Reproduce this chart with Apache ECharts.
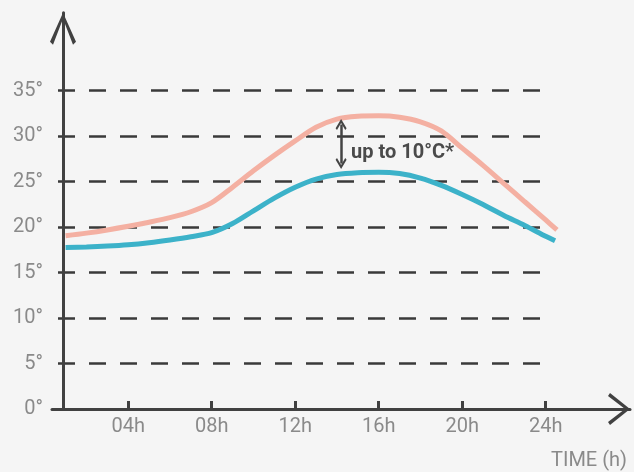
<!DOCTYPE html>
<html>
<head>
<meta charset="utf-8">
<script src="https://cdn.jsdelivr.net/npm/echarts@6/dist/echarts.min.js"></script>
<style>
html,body{margin:0;padding:0;background:#f5f5f5;}
#chart{width:634px;height:472px;}
</style>
</head>
<body>
<div id="chart"></div>
<script>
// ---- data ----
var pinkHours = [1, 2, 3, 4, 5, 6, 7, 8, 9, 10, 11, 12, 13, 14, 15, 16, 17, 18, 19, 20, 21, 22, 23, 24, 24.54];
var pinkTemps = [19.05, 19.35, 19.7, 20.1, 20.55, 21.05, 21.7, 22.7, 24.4, 26.2, 27.9, 29.5, 31.0, 31.9, 32.2, 32.25, 32.1, 31.6, 30.6, 28.7, 26.8, 24.8, 22.8, 20.8, 19.7];
var blueHours = [1, 2, 3, 4, 5, 6, 7, 8, 9, 10, 11, 12, 13, 14, 15, 16, 17, 18, 19, 20, 21, 22, 23, 24, 24.45];
var blueTemps = [17.76, 17.82, 17.92, 18.07, 18.3, 18.6, 18.95, 19.4, 20.4, 21.8, 23.2, 24.4, 25.3, 25.8, 26.0, 26.05, 25.9, 25.4, 24.6, 23.6, 22.5, 21.3, 20.2, 19.0, 18.5];
var hourTicks = [4, 8, 12, 16, 20, 24];
var tempTicks = [0, 5, 10, 15, 20, 25, 30, 35];
var gapHour = 14.2;
var gapRange = [27.0, 31.3];
var gapLabelTemp = 28.2;
var gapLabelText = 'up to 10°C*';
var xName = 'TIME (h)';

function zip(a, b) { return a.map(function (v, i) { return [v, b[i]]; }); }

var axisColor = '#414141';
var labelColor = '#8a8a8a';
var chevY = 'path://M13,0 L26,29 L23,32 L13,6 L3,32 L0,29 Z';
var chevX = 'path://M16,0 L32,20 L29,22 L16,5 L3,22 L0,20 Z';
var chevSmall = 'path://M6,0 L12,8 L10.5,9.5 L6,3.5 L1.5,9.5 L0,8 Z';

var chart = echarts.init(document.getElementById('chart'), null, {renderer: 'canvas'});
chart.setOption({
  backgroundColor: '#f5f5f5',
  animation: false,
  title: {
    text: xName, right: 7, top: 451, padding: 0,
    textStyle: {fontFamily: 'Roboto', fontSize: 20, fontWeight: 'normal', color: labelColor, lineHeight: 20}
  },
  grid: [
    {left: 52, right: 4, top: 12.7, bottom: 63},
    {left: 58, right: 82, top: 90.5, bottom: 63}
  ],
  xAxis: [
    {
      type: 'value', gridIndex: 0, min: 0.35, max: 28.04,
      axisLine: {show: true, symbol: ['none', chevX], symbolSize: [32, 22], symbolOffset: [0, -11],
        lineStyle: {color: axisColor, width: 3}},
      axisTick: {show: true, inside: true, length: 8, customValues: hourTicks, lineStyle: {color: axisColor, width: 3}},
      axisLabel: {show: true, customValues: hourTicks, margin: 8, fontFamily: 'Roboto', fontSize: 20, color: labelColor,
        formatter: function (v) { return (v < 10 ? '0' : '') + v + 'h'; }},
      splitLine: {show: false}
    },
    {
      type: 'value', gridIndex: 1, min: 0, max: 1, show: false
    }
  ],
  yAxis: [
    {
      type: 'value', gridIndex: 0, min: 0, max: 43.6, offset: -11,
      axisLine: {show: true, symbol: ['none', chevY], symbolSize: [26, 32], symbolOffset: [0, -16],
        lineStyle: {color: axisColor, width: 3}},
      axisTick: {show: false},
      axisLabel: {show: true, customValues: tempTicks, margin: 20, fontFamily: 'Roboto', fontSize: 20, color: labelColor,
        formatter: function (v) { return v + '°'; }},
      splitLine: {show: false}
    },
    {
      type: 'value', gridIndex: 1, min: 0, max: 35, interval: 5,
      axisLine: {show: false}, axisTick: {show: false}, axisLabel: {show: false},
      splitLine: {show: true, showMinLine: false,
        lineStyle: {color: '#3a3a3a', width: 2.5, type: [17, 14]}}
    }
  ],
  series: [
    {
      type: 'line', xAxisIndex: 0, yAxisIndex: 0, data: zip(pinkHours, pinkTemps),
      smooth: 0.3, showSymbol: false, silent: true, z: 3,
      lineStyle: {color: '#f4b0a2', width: 5}
    },
    {
      type: 'line', xAxisIndex: 0, yAxisIndex: 0, data: zip(blueHours, blueTemps),
      smooth: 0.3, showSymbol: false, silent: true, z: 4,
      lineStyle: {color: '#3cb2c9', width: 5},
      markLine: {
        silent: true, symbol: [chevSmall, chevSmall], symbolSize: 11,
        lineStyle: {color: '#444', width: 2.5, type: 'solid'},
        label: {show: false},
        data: [[{coord: [gapHour, gapRange[0]]}, {coord: [gapHour, gapRange[1]]}]]
      },
      markPoint: {
        silent: true, symbol: 'circle', symbolSize: 0,
        label: {show: true, position: 'right', distance: 10, formatter: gapLabelText,
          fontFamily: 'Roboto', fontSize: 20, fontWeight: 'bold', color: '#4a4a4a'},
        data: [{coord: [gapHour, gapLabelTemp]}]
      }
    }
  ]
});
</script>
</body>
</html>
